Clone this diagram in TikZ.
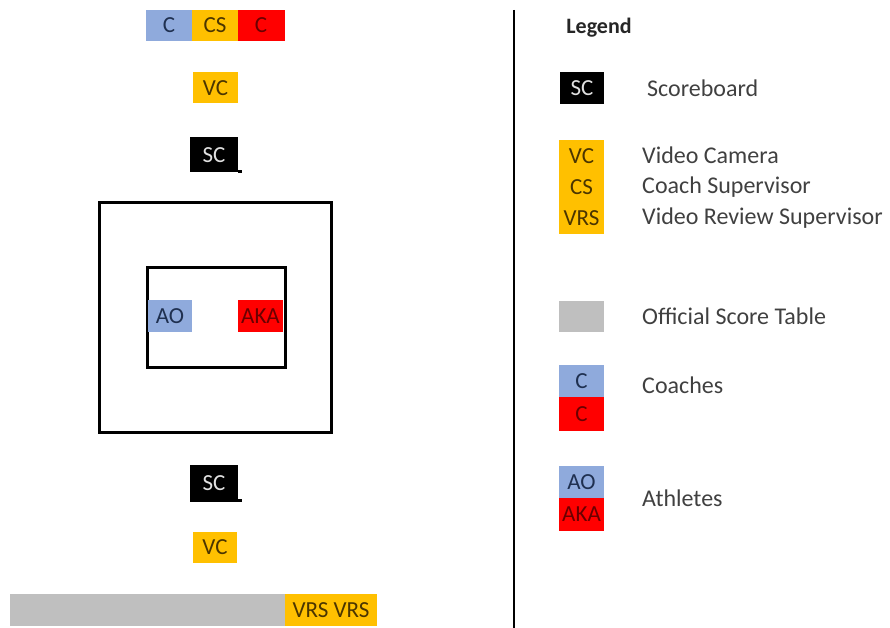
\documentclass[tikz,border=0pt]{standalone}
\usepackage{fontspec}
\setmainfont{Carlito}
\usepackage{xcolor}
\usepackage{tikz}
\definecolor{aoblue}{HTML}{8FAADC}
\definecolor{akared}{HTML}{FF0000}
\definecolor{staffgold}{HTML}{FFC000}
\definecolor{tablegrey}{HTML}{BFBFBF}
\definecolor{bluetext}{HTML}{1F3050}
\definecolor{redtext}{HTML}{6A0000}
\definecolor{goldtext}{HTML}{4A3500}
\definecolor{legtext}{HTML}{404040}

\begin{document}
\begin{tikzpicture}[x=1pt,y=-1pt,
  tag/.style={inner sep=0pt, font=\fontsize{23}{27}\selectfont, minimum width=45pt, minimum height=31pt},
  bluetag/.style={tag, fill=aoblue, text=bluetext},
  redtag/.style={tag, fill=akared, text=redtext},
  goldtag/.style={tag, fill=staffgold, text=goldtext},
  sctag/.style={tag, fill=black, text=white!88!black, minimum width=48pt, minimum height=35pt},
  greytag/.style={tag, fill=tablegrey},
  legname/.style={anchor=west, inner sep=0pt, text=legtext, font=\fontsize{24}{28}\selectfont}]
\useasboundingbox (0,0) rectangle (890,628);

% Coaches and coach supervisor
\node[bluetag, minimum width=46pt] (coachao) at (169,25.5) {C};
\node[goldtag, minimum width=46pt] (coachsup) at (215,25.5) {CS};
\node[redtag, minimum width=47pt] (coachaka) at (261,25.5) {C};

% Camera and scoreboard, top
\node[goldtag] (camtop) at (215.5,88) {VC};
\node[sctag] (sctop) at (214,155) {SC};
\fill (238,170) rectangle (242,173);

% Competition area
\draw[line width=3pt] (99,203) rectangle (331,432);
\draw[line width=3pt] (147,267) rectangle (285,367);
\node[bluetag, minimum width=44pt, minimum height=32pt] (ao) at (170,316) {AO};
\node[redtag, minimum height=32pt] (aka) at (260.5,316) {AKA};

% Scoreboard and camera, bottom
\node[sctag, minimum height=37pt] (scbot) at (214,483.5) {SC};
\fill (238,499) rectangle (242,502);
\node[goldtag, minimum width=44pt] (cambot) at (215,547.5) {VC};

% Official score table
\node[greytag, minimum width=275pt, minimum height=32pt] (table) at (147.5,610) {};
\node[goldtag, minimum width=92pt, minimum height=32pt] (vrs) at (331,610) {VRS VRS};

% Separator
\draw[line width=2pt] (514,10) -- (514,628);

% Legend
\node[inner sep=0pt, text=black!85, font=\fontsize{22}{26}\selectfont\bfseries] (legend) at (599,28) {Legend};
\node[sctag, minimum width=44pt, minimum height=32pt] (legsc) at (582,88) {SC};
\node[legname] (legscname) at (647,88) {Scoreboard};

\node[goldtag, minimum height=31.4pt] (legvc) at (581.5,155.7) {VC};
\node[goldtag, minimum height=31.4pt] (legcs) at (581.5,187) {CS};
\node[goldtag, minimum height=31.4pt] (legvrs) at (581.5,218.3) {VRS};
\node[legname] (legvcname) at (642,155.7) {Video Camera};
\node[legname] (legcsname) at (642,187) {Coach Supervisor};
\node[legname] (legvrsname) at (642,218.3) {Video Review Supervisor};

\node[greytag] (legtable) at (581.5,316.5) {};
\node[legname] (legtablename) at (642,316.5) {Official Score Table};

\node[bluetag, minimum height=32pt] (legcb) at (581.5,381) {C};
\node[redtag, minimum height=34pt] (legcr) at (581.5,414) {C};
\node[legname] (legcname) at (642,385) {Coaches};

\node[bluetag, minimum height=32pt] (legao) at (581.5,482) {AO};
\node[redtag, minimum height=33pt] (legaka) at (581.5,514.5) {AKA};
\node[legname] (leganame) at (642,498) {Athletes};
\end{tikzpicture}
\end{document}
